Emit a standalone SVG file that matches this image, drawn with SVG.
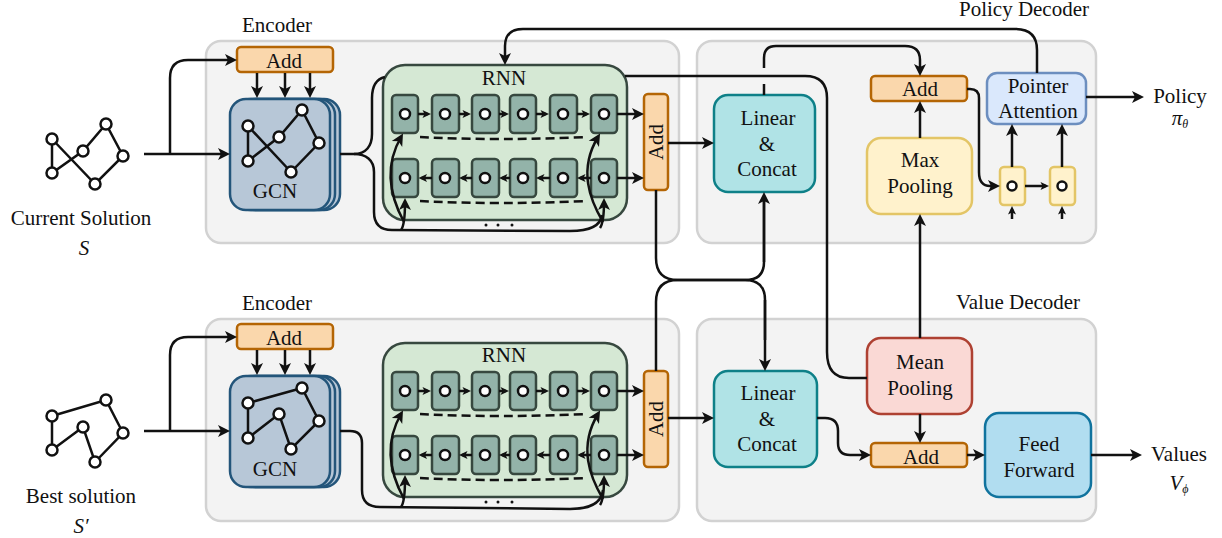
<svg xmlns="http://www.w3.org/2000/svg" width="1222" height="538" viewBox="0 0 1222 538">
<style>
text{font-family:"Liberation Serif","Times New Roman",serif;font-size:21px;fill:#111;text-anchor:middle}
.i{font-style:italic}
.panel{fill:#f3f3f3;stroke:#d2d2d2;stroke-width:2.5}
.add{fill:#fad7ac;stroke:#b46504;stroke-width:2.5}
.gcn{fill:#b7c7d7;stroke:#23557a;stroke-width:2.5}
.rnn{fill:#d5e8d4;stroke:#37483f;stroke-width:2.5}
.cell{fill:#93b3a9;stroke:#37483f;stroke-width:2.5}
.lin{fill:#b0e3e6;stroke:#0e8088;stroke-width:2.5}
.max{fill:#fff2cc;stroke:#e3c566;stroke-width:2.5}
.ptr{fill:#dae8fc;stroke:#6c8ebf;stroke-width:2.5}
.mean{fill:#fad9d5;stroke:#ae4132;stroke-width:2.5}
.feed{fill:#b1ddf0;stroke:#10739e;stroke-width:2.5}
.dot{fill:#fff;stroke:#111;stroke-width:2.5}
.edge{fill:none;stroke:#111;stroke-width:2.5}
.c{fill:none;stroke:#111;stroke-width:2.5}
.a{marker-end:url(#big)}
.s{marker-end:url(#small)}
.d{stroke-dasharray:9 5}
</style>
<defs>
<marker id="big" markerUnits="userSpaceOnUse" markerWidth="14" markerHeight="14" viewBox="0 0 14 14" refX="9" refY="7" orient="auto"><path d="M13,7 L1,1 L4,7 L1,13 Z" fill="#111"/></marker>
<marker id="small" markerUnits="userSpaceOnUse" markerWidth="10" markerHeight="10" viewBox="0 0 10 10" refX="6.5" refY="5" orient="auto"><path d="M9.5,5 L1,1 L3,5 L1,9 Z" fill="#111"/></marker>
</defs>

<g id="panel-encoder-top"><rect class="panel" x="206" y="41" width="473" height="202" rx="15"/><text x="277" y="32">Encoder</text></g>
<g id="panel-policy"><rect class="panel" x="697" y="41" width="399" height="202" rx="15"/><text x="1024" y="16">Policy Decoder</text></g>
<g id="panel-encoder-bottom"><rect class="panel" x="206" y="319" width="473" height="202" rx="15"/><text x="277" y="310">Encoder</text></g>
<g id="panel-value"><rect class="panel" x="697" y="319" width="399" height="202" rx="15"/><text x="1018" y="309">Value Decoder</text></g>

<g id="solution-current">
<path class="edge" d="M52,139V173L83,151L106,124L123,156L95,184L52,139"/>
<circle class="dot" cx="52" cy="139" r="5.5"/><circle class="dot" cx="52" cy="173" r="5.5"/><circle class="dot" cx="83" cy="151" r="5.5"/><circle class="dot" cx="106" cy="124" r="5.5"/><circle class="dot" cx="123" cy="156" r="5.5"/><circle class="dot" cx="95" cy="184" r="5.5"/>
<text x="81" y="225">Current Solution</text><text class="i" x="84" y="255">S</text>
</g>
<g id="solution-best">
<path class="edge" d="M52,416L106,400L123,433L95,462L83,427L52,450Z"/>
<circle class="dot" cx="52" cy="416" r="5.5"/><circle class="dot" cx="52" cy="450" r="5.5"/><circle class="dot" cx="83" cy="427" r="5.5"/><circle class="dot" cx="106" cy="400" r="5.5"/><circle class="dot" cx="123" cy="433" r="5.5"/><circle class="dot" cx="95" cy="462" r="5.5"/>
<text x="81" y="503">Best solution</text><text class="i" x="81" y="533">S′</text>
</g>

<g id="add-top"><rect class="add" x="237" y="47" width="96" height="25" rx="4"/><text x="284" y="68">Add</text></g>
<g id="add-bottom"><rect class="add" x="237" y="324" width="96" height="25" rx="4"/><text x="284" y="345">Add</text></g>

<g id="gcn-top">
<rect class="gcn" x="240" y="99" width="100" height="111" rx="16"/><rect class="gcn" x="235" y="99" width="100" height="111" rx="16"/><rect class="gcn" x="230" y="99" width="100" height="111" rx="16"/>
<path class="edge" d="M248,126V161L279,137L302,110L319,143L291,172L248,126"/>
<circle class="dot" cx="248" cy="126" r="5.5"/><circle class="dot" cx="248" cy="161" r="5.5"/><circle class="dot" cx="279" cy="137" r="5.5"/><circle class="dot" cx="302" cy="110" r="5.5"/><circle class="dot" cx="319" cy="143" r="5.5"/><circle class="dot" cx="291" cy="172" r="5.5"/>
<text x="275" y="198">GCN</text>
</g>
<g id="gcn-bottom">
<rect class="gcn" x="240" y="376" width="100" height="111" rx="16"/><rect class="gcn" x="235" y="376" width="100" height="111" rx="16"/><rect class="gcn" x="230" y="376" width="100" height="111" rx="16"/>
<path class="edge" d="M248,403L302,388L319,421L291,449L279,414L248,438Z"/>
<circle class="dot" cx="248" cy="403" r="5.5"/><circle class="dot" cx="248" cy="438" r="5.5"/><circle class="dot" cx="279" cy="414" r="5.5"/><circle class="dot" cx="302" cy="388" r="5.5"/><circle class="dot" cx="319" cy="421" r="5.5"/><circle class="dot" cx="291" cy="449" r="5.5"/>
<text x="275" y="476">GCN</text>
</g>

<g id="rnn-top">
<rect class="rnn" x="383" y="65" width="244" height="155" rx="22"/>
<text x="504" y="85">RNN</text>
<rect class="cell" x="392" y="95" width="26" height="38" rx="4"/><rect class="cell" x="432" y="95" width="27" height="38" rx="4"/><rect class="cell" x="472" y="95" width="27" height="38" rx="4"/><rect class="cell" x="510" y="95" width="26" height="38" rx="4"/><rect class="cell" x="550" y="95" width="27" height="38" rx="4"/><rect class="cell" x="591" y="95" width="26" height="38" rx="4"/>
<rect class="cell" x="392" y="159" width="26" height="38" rx="4"/><rect class="cell" x="432" y="159" width="27" height="38" rx="4"/><rect class="cell" x="472" y="159" width="27" height="38" rx="4"/><rect class="cell" x="510" y="159" width="26" height="38" rx="4"/><rect class="cell" x="550" y="159" width="27" height="38" rx="4"/><rect class="cell" x="591" y="159" width="26" height="38" rx="4"/>
<g class="dot"><circle cx="405" cy="114" r="5"/><circle cx="445" cy="114" r="5"/><circle cx="485" cy="114" r="5"/><circle cx="523" cy="114" r="5"/><circle cx="563" cy="114" r="5"/><circle cx="604" cy="114" r="5"/><circle cx="405" cy="178" r="5"/><circle cx="445" cy="178" r="5"/><circle cx="485" cy="178" r="5"/><circle cx="523" cy="178" r="5"/><circle cx="563" cy="178" r="5"/><circle cx="604" cy="178" r="5"/></g>
<g fill="#111"><circle cx="486" cy="225" r="1.5"/><circle cx="498" cy="225" r="1.5"/><circle cx="512" cy="225" r="1.5"/></g>
</g>
<g id="rnn-bottom">
<rect class="rnn" x="383" y="343" width="244" height="154" rx="22"/>
<text x="504" y="362">RNN</text>
<rect class="cell" x="392" y="372" width="26" height="38" rx="4"/><rect class="cell" x="432" y="372" width="27" height="38" rx="4"/><rect class="cell" x="472" y="372" width="27" height="38" rx="4"/><rect class="cell" x="510" y="372" width="26" height="38" rx="4"/><rect class="cell" x="550" y="372" width="27" height="38" rx="4"/><rect class="cell" x="591" y="372" width="26" height="38" rx="4"/>
<rect class="cell" x="392" y="436" width="26" height="38" rx="4"/><rect class="cell" x="432" y="436" width="27" height="38" rx="4"/><rect class="cell" x="472" y="436" width="27" height="38" rx="4"/><rect class="cell" x="510" y="436" width="26" height="38" rx="4"/><rect class="cell" x="550" y="436" width="27" height="38" rx="4"/><rect class="cell" x="591" y="436" width="26" height="38" rx="4"/>
<g class="dot"><circle cx="405" cy="391" r="5"/><circle cx="445" cy="391" r="5"/><circle cx="485" cy="391" r="5"/><circle cx="523" cy="391" r="5"/><circle cx="563" cy="391" r="5"/><circle cx="604" cy="391" r="5"/><circle cx="405" cy="455" r="5"/><circle cx="445" cy="455" r="5"/><circle cx="485" cy="455" r="5"/><circle cx="523" cy="455" r="5"/><circle cx="563" cy="455" r="5"/><circle cx="604" cy="455" r="5"/></g>
<g fill="#111"><circle cx="486" cy="502" r="1.5"/><circle cx="498" cy="502" r="1.5"/><circle cx="512" cy="502" r="1.5"/></g>
</g>

<g id="add-rnn-top"><rect class="add" x="644" y="94" width="24" height="96" rx="4"/><text transform="translate(663,142) rotate(-90)">Add</text></g>
<g id="add-rnn-bottom"><rect class="add" x="644" y="371" width="24" height="96" rx="4"/><text transform="translate(663,419) rotate(-90)">Add</text></g>

<g id="linear-top"><rect class="lin" x="714" y="95" width="101" height="97" rx="14"/><text x="768" y="125">Linear</text><text x="767" y="151">&amp;</text><text x="767" y="176">Concat</text></g>
<g id="linear-bottom"><rect class="lin" x="714" y="371" width="103" height="96" rx="14"/><text x="768" y="400">Linear</text><text x="767" y="426">&amp;</text><text x="767" y="451">Concat</text></g>
<g id="add-policy"><rect class="add" x="871" y="76" width="96" height="25" rx="4"/><text x="920" y="96">Add</text></g>
<g id="max-pooling"><rect class="max" x="867" y="138" width="105" height="76" rx="14"/><text x="920" y="167">Max</text><text x="920" y="193">Pooling</text></g>
<g id="pointer-attention"><rect class="ptr" x="987" y="73" width="99" height="51" rx="10"/><text x="1038" y="93">Pointer</text><text x="1038" y="118">Attention</text></g>
<g id="cell-a"><rect class="max" x="1000" y="167" width="25" height="38" rx="4"/><circle class="dot" cx="1012" cy="186" r="4.5"/></g>
<g id="cell-b"><rect class="max" x="1050" y="167" width="25" height="38" rx="4"/><circle class="dot" cx="1062" cy="186" r="4.5"/></g>
<g id="mean-pooling"><rect class="mean" x="867" y="338" width="105" height="76" rx="14"/><text x="920" y="369">Mean</text><text x="920" y="395">Pooling</text></g>
<g id="add-value"><rect class="add" x="871" y="443" width="96" height="24" rx="4"/><text x="921" y="464">Add</text></g>
<g id="feed-forward"><rect class="feed" x="985" y="413" width="106" height="84" rx="14"/><text x="1039" y="451">Feed</text><text x="1039" y="477">Forward</text></g>
<g id="out-policy"><text x="1180" y="103">Policy</text><text class="i" x="1180" y="125">π<tspan font-size="12" dy="3">θ</tspan></text></g>
<g id="out-values"><text x="1179" y="461">Values</text><text class="i" x="1179" y="490">V<tspan font-size="12" dy="3">ϕ</tspan></text></g>

<g id="connectors">
<path class="c a" d="M144,154H226"/>
<path class="c a" d="M170,154V78Q170,60 188,60H233"/>
<path class="c a" d="M144,431H226"/>
<path class="c a" d="M170,431V355Q170,337 188,337H233"/>
<path class="c a" d="M257,73V94"/><path class="c a" d="M285,73V94"/><path class="c a" d="M310,73V94"/>
<path class="c a" d="M257,350V371"/><path class="c a" d="M285,350V371"/><path class="c a" d="M310,350V371"/>
<path class="c" d="M340,154H354C366,154 372,146 372,134V98Q372,80 385,77"/>
<path class="c" d="M354,154C366,154 374,160 374,172V212Q374,230 392,230L570,231Q600,231 602,215"/>
<path class="c" d="M340,431H350Q362,431 362,443V490Q362,507 380,507L570,509Q601,509 603,490"/>
<path class="c a" d="M401,230Q405,225 405,202"/><path class="c a" d="M600,228Q604,222 604,202"/>
<path class="c a" d="M401,507Q405,502 405,479"/><path class="c a" d="M600,505Q604,499 604,479"/>
<path class="c a" d="M404,222C392,200 382,170 401,137"/><path class="c a" d="M603,222C590,200 578,170 598,137"/>
<path class="c a" d="M404,499C392,477 382,447 401,414"/><path class="c a" d="M603,499C590,477 578,447 598,414"/>
<g>
<path class="c s" d="M418,114H428"/><path class="c s" d="M459,114H468"/><path class="c s" d="M499,114H506"/><path class="c s" d="M536,114H546"/><path class="c s" d="M577,114H587"/>
<path class="c s" d="M432,178H421.500"/><path class="c s" d="M472,178H462"/><path class="c s" d="M510,178H502"/><path class="c s" d="M550,178H539"/><path class="c s" d="M591,178H580"/>
<path class="c s" d="M418,391H428"/><path class="c s" d="M459,391H468"/><path class="c s" d="M499,391H506"/><path class="c s" d="M536,391H546"/><path class="c s" d="M577,391H587"/>
<path class="c s" d="M432,455H421.500"/><path class="c s" d="M472,455H462"/><path class="c s" d="M510,455H502"/><path class="c s" d="M550,455H539"/><path class="c s" d="M591,455H580"/>
</g>
<path class="c d" d="M420,137Q500,141 587,137"/><path class="c d" d="M420,201Q500,205 587,201"/>
<path class="c d" d="M420,414Q500,418 587,414"/><path class="c d" d="M420,478Q500,482 587,478"/>
<path class="c a" d="M617,114H640"/><path class="c a" d="M617,178H640"/><path class="c a" d="M617,391H640"/><path class="c a" d="M617,455H640"/>
<path class="c a" d="M668,143H710"/><path class="c a" d="M668,418H710"/>
<path class="c" d="M625,76H805Q827,76 827,98V352Q827,378 849,378H867"/>
<path class="c" d="M1037,73V50Q1037,29 1015,29H523Q505,29 505,46V61"/><path d="M505,65L499,53L505,56L511,53Z" fill="#111"/>
<path class="c" d="M764,95V84"/>
<path class="c a" d="M764,68V58Q764,46 776,46H905Q920,46 920,60V72"/>
<path class="c" d="M656,190V258Q656,280 678,280H745Q764,280 764,262V200"/><path class="c a" d="M764,262V196"/>
<path class="c" d="M656,371V302Q656,280 678,280H745Q765,280 765,300V340"/><path class="c a" d="M765,300V367"/>
<path class="c a" d="M920,338V218"/>
<path class="c a" d="M920,138V105"/>
<path class="c a" d="M920,414V439"/>
<path class="c a" d="M967,89H970Q979,89 979,98V172Q979,186 990,186H996"/>
<path class="c s" d="M1025,186H1046"/>
<path class="c a" d="M1012,167V128"/><path class="c a" d="M1062,167V128"/>
<path class="c s" d="M1012,219V209"/><path class="c s" d="M1062,219V209"/>
<path class="c a" d="M1086,97H1140"/>
<path class="c a" d="M817,418H825Q838,418 838,431V443Q838,455 850,455H867"/>
<path class="c a" d="M967,455H981"/>
<path class="c a" d="M1091,455H1138"/>
</g>
</svg>
